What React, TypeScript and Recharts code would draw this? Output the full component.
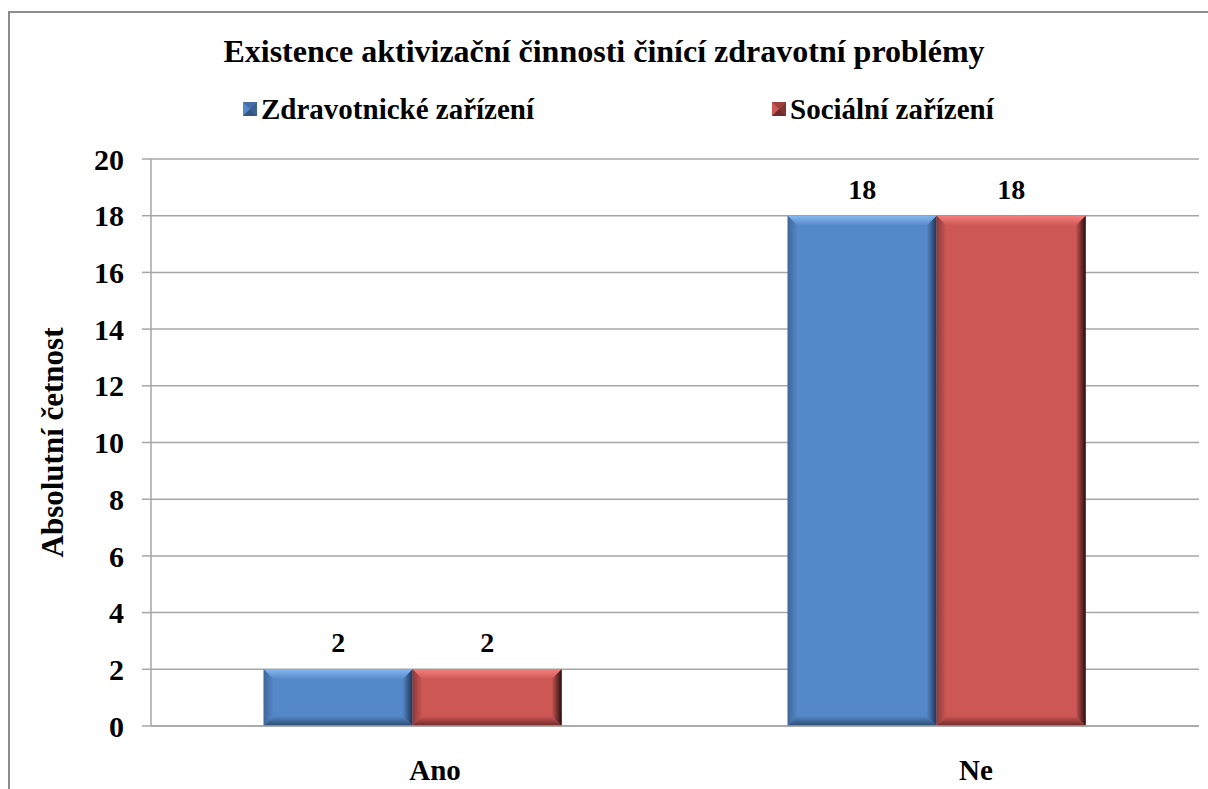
import { BarChart, Bar, XAxis, YAxis, CartesianGrid, LabelList, Label } from 'recharts';

const categories = ['Ano', 'Ne'];
const zdravotnicke = [2, 18];
const socialni = [2, 18];
const yTicks = [0, 2, 4, 6, 8, 10, 12, 14, 16, 18, 20];

const seriesNames = ['Zdravotnické zařízení', 'Sociální zařízení'];

const data = categories.map((c, i) => ({
    name: c,
    zdrav: zdravotnicke[i],
    soc: socialni[i],
}));

const FONT = '"Liberation Serif", "Times New Roman", serif';

// the category labels sit a little to the right of the bar pairs in the original
const xLabelShift = [22, 39];

const palette = {
    blue: { id: 'b', face: '#5588C8', top: '#86B8F0', left: '#3F6799', right: '#1E3352', bottom: '#2C4A70' },
    red: { id: 'r', face: '#CD5755', top: '#F4807C', left: '#8E3A38', right: '#2A0E0E', bottom: '#6E2A29' },
};

const bevelShape = (pal: typeof palette.blue) => (props: any) => {
    const { x, y, width: w, height: h, index } = props;
    if (!h || h <= 0) return <g />;
    const b = Math.min(10, h / 4, w / 4);
    const id = `${pal.id}${index}`;
    return (
        <g>
            <defs>
                <linearGradient id={`t${id}`} x1="0" y1="0" x2="0" y2="1">
                    <stop offset="0%" stopColor={pal.top} />
                    <stop offset="100%" stopColor={pal.face} />
                </linearGradient>
                <linearGradient id={`bt${id}`} x1="0" y1="0" x2="0" y2="1">
                    <stop offset="0%" stopColor={pal.face} />
                    <stop offset="100%" stopColor={pal.bottom} />
                </linearGradient>
                <linearGradient id={`r${id}`} x1="0" y1="0" x2="1" y2="0">
                    <stop offset="0%" stopColor={pal.face} />
                    <stop offset="100%" stopColor={pal.right} />
                </linearGradient>
                <linearGradient id={`l${id}`} x1="0" y1="0" x2="1" y2="0">
                    <stop offset="0%" stopColor={pal.left} />
                    <stop offset="100%" stopColor={pal.face} />
                </linearGradient>
            </defs>
            <rect x={x} y={y} width={w} height={h} fill={pal.face} />
            <polygon points={`${x},${y} ${x + w},${y} ${x + w - b},${y + b} ${x + b},${y + b}`} fill={`url(#t${id})`} />
            <polygon points={`${x},${y} ${x + b},${y + b} ${x + b},${y + h - b} ${x},${y + h}`} fill={`url(#l${id})`} />
            <polygon points={`${x + w},${y} ${x + w},${y + h} ${x + w - b},${y + h - b} ${x + w - b},${y + b}`} fill={`url(#r${id})`} />
            <polygon points={`${x},${y + h} ${x + w},${y + h} ${x + w - b},${y + h - b} ${x + b},${y + h - b}`} fill={`url(#bt${id})`} />
        </g>
    );
};

const legendSquare = (c: string, dark: string) => (
    <svg width={14} height={14} style={{ display: 'inline-block', marginRight: 4, verticalAlign: 'middle' }}>
        <rect x={0} y={0} width={14} height={14} fill={c} />
        <polygon points="0,0 14,0 7,7" fill={dark} opacity={0.3} />
        <polygon points="0,14 14,14 7,7" fill={dark} opacity={0.6} />
        <polygon points="14,0 14,14 7,7" fill={dark} opacity={0.45} />
    </svg>
);

const CategoryTick = (props: any) => {
    const { x, y, payload, index } = props;
    return (
        <text
            x={x + (xLabelShift[index] || 0)}
            y={y}
            dy="0.71em"
            textAnchor="middle"
            fill="#000"
            fontSize={29}
            fontWeight="bold"
            fontFamily={FONT}
        >
            {payload.value}
        </text>
    );
};

export default function App() {
    return (
        <div style={{ position: 'absolute', left: 0, top: 0, width: 1208, height: 789, overflow: 'hidden', background: '#fff', fontFamily: FONT }}>
            <div style={{ position: 'absolute', left: 8, top: 11, width: 1400, height: 1000, border: '2px solid #8c8c8c' }} />
            <div style={{ position: 'absolute', left: 0, top: 33, width: 1208, textAlign: 'center', fontSize: 32, fontWeight: 'bold', color: '#000', fontFamily: FONT }}>
                Existence aktivizační činnosti činící zdravotní problémy
            </div>
            <div style={{ position: 'absolute', left: 243, top: 90, fontSize: 29, fontWeight: 'bold', whiteSpace: 'nowrap', fontFamily: FONT }}>
                {legendSquare(palette.blue.face, palette.blue.right)}
                <span style={{ verticalAlign: 'middle' }}>{seriesNames[0]}</span>
            </div>
            <div style={{ position: 'absolute', left: 772, top: 90, fontSize: 29, fontWeight: 'bold', whiteSpace: 'nowrap', fontFamily: FONT }}>
                {legendSquare(palette.red.face, palette.red.right)}
                <span style={{ verticalAlign: 'middle' }}>{seriesNames[1]}</span>
            </div>
            <div style={{ position: 'absolute', left: 0, top: 0 }}>
                <BarChart
                    width={1208}
                    height={789}
                    data={data}
                    margin={{ top: 159, right: 9, bottom: 0, left: 0 }}
                    barCategoryGap="21.5%"
                    barGap={0}
                >
                    <CartesianGrid vertical={false} stroke="#a6a6a6" strokeWidth={1.5} />
                    <XAxis
                        dataKey="name"
                        height={63}
                        axisLine={{ stroke: '#a6a6a6', strokeWidth: 1.5 }}
                        tickLine={false}
                        tick={<CategoryTick />}
                        tickMargin={27}
                    />
                    <YAxis
                        width={151}
                        domain={[0, 20]}
                        ticks={yTicks}
                        interval={0}
                        axisLine={{ stroke: '#a6a6a6', strokeWidth: 1.5 }}
                        tickLine={{ stroke: '#a6a6a6', strokeWidth: 1.5 }}
                        tickSize={9}
                        tickMargin={18}
                        tick={{ fill: '#000', fontSize: 30, fontWeight: 'bold', fontFamily: FONT }}
                    >
                        <Label
                            content={(p: any) => {
                                const vb = p.viewBox || {};
                                const cx = (vb.x || 0) + 52;
                                const cy = (vb.y || 0) + (vb.height || 0) / 2;
                                return (
                                    <text
                                        x={cx}
                                        y={cy}
                                        transform={`rotate(-90 ${cx} ${cy})`}
                                        textAnchor="middle"
                                        dominantBaseline="central"
                                        fontSize={31}
                                        fontWeight="bold"
                                        fontFamily={FONT}
                                        fill="#000"
                                    >
                                        Absolutní četnost
                                    </text>
                                );
                            }}
                        />
                    </YAxis>
                    <Bar dataKey="zdrav" name={seriesNames[0]} shape={bevelShape(palette.blue)} isAnimationActive={false}>
                        <LabelList dataKey="zdrav" position="top" offset={17} fill="#000" fontSize={28} fontWeight="bold" fontFamily={FONT} />
                    </Bar>
                    <Bar dataKey="soc" name={seriesNames[1]} shape={bevelShape(palette.red)} isAnimationActive={false}>
                        <LabelList dataKey="soc" position="top" offset={17} fill="#000" fontSize={28} fontWeight="bold" fontFamily={FONT} />
                    </Bar>
                </BarChart>
            </div>
        </div>
    );
}
